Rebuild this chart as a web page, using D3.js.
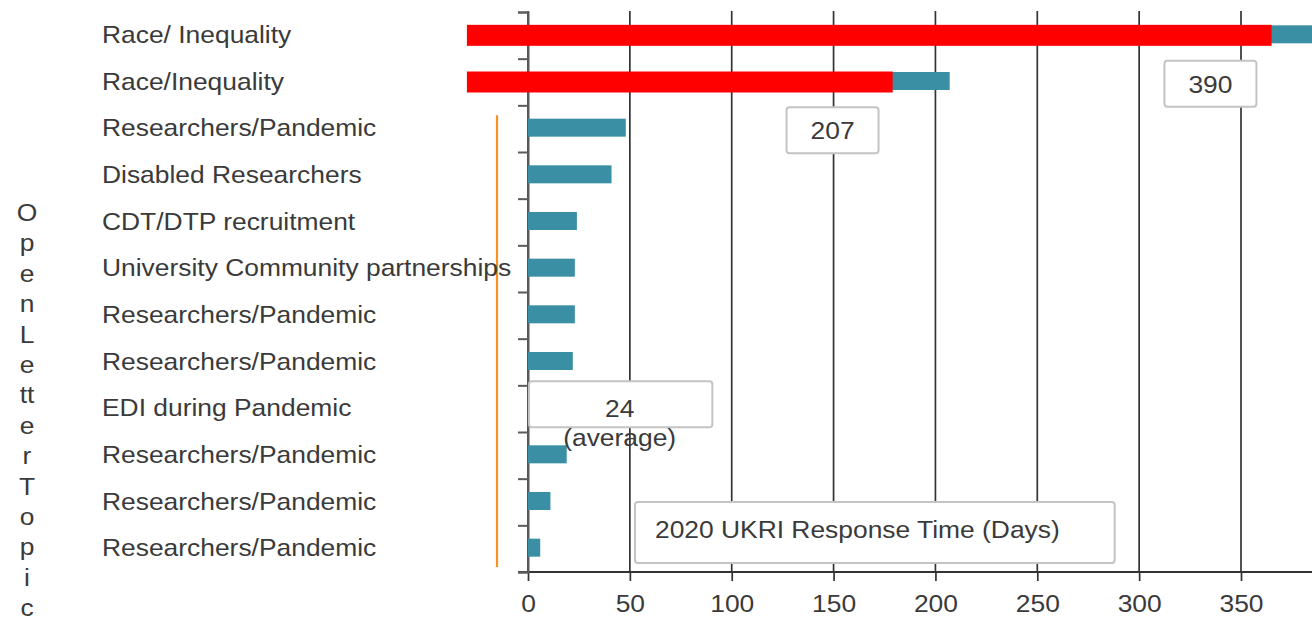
<!DOCTYPE html>
<html>
<head>
<meta charset="utf-8">
<script src="https://cdn.jsdelivr.net/npm/d3@7"></script>
<style>
  html, body { margin: 0; padding: 0; background: #fff; }
  svg { display: block; }
  text { font-family: "Liberation Sans", Arial, sans-serif; fill: #3a3a3a; }
</style>
</head>
<body>
<svg id="chart" width="1312" height="624"></svg>
<script>
// Open letter topics, top to bottom
const topics = [
  "Race/ Inequality",
  "Race/Inequality",
  "Researchers/Pandemic",
  "Disabled Researchers",
  "CDT/DTP recruitment",
  "University Community partnerships",
  "Researchers/Pandemic",
  "Researchers/Pandemic",
  "EDI during Pandemic",
  "Researchers/Pandemic",
  "Researchers/Pandemic",
  "Researchers/Pandemic"
];
// UKRI response time in days
const responseDays = [390, 207, 48, 41, 24, 23, 23, 22, 23, 19, 11, 6];

// Highlight overlays on the two race/inequality letters
const highlightRows = [0, 1];
const highlightFrom = [-30, -30];
const highlightTo = [365, 179];

// Axis ticks
const xTicks = [0, 50, 100, 150, 200, 250, 300, 350];

// Value callouts
const calloutRows = [1, 0];
const calloutValues = [207, 390];
const averageDays = 24;
const titleText = "2020 UKRI Response Time (Days)";
const axisTitle = "OpenLetterTopic";

const svg = d3.select("#chart");
const stretch = 1.1;

const x = d3.scaleLinear().domain([0, 350]).range([528, 1241]);
const y = d3.scaleBand().domain(d3.range(topics.length)).range([12, 572]);
const yEdge = d3.scaleLinear().domain([0, topics.length]).range([12, 572]);

// vertical grid lines
svg.append("g").selectAll("line").data(xTicks).join("line")
  .attr("x1", d => x(d)).attr("x2", d => x(d))
  .attr("y1", yEdge(0) - 1).attr("y2", yEdge(topics.length))
  .attr("stroke", "#333").attr("stroke-width", 1.7);

// x axis
const xAxis = svg.append("g")
  .attr("transform", `translate(0,${yEdge(topics.length)})`)
  .call(d3.axisBottom(x).tickValues(xTicks).tickSize(9).tickPadding(14));
xAxis.select(".domain").remove();
xAxis.selectAll(".tick line").attr("stroke", "#333").attr("stroke-width", 1.7);
xAxis.selectAll(".tick text")
  .style("font-size", "24px").attr("fill", "#3a3a3a")
  .attr("transform", `scale(${stretch},1)`);
svg.append("line")
  .attr("x1", x(0) - 10).attr("x2", 1312)
  .attr("y1", yEdge(topics.length)).attr("y2", yEdge(topics.length))
  .attr("stroke", "#333").attr("stroke-width", 1.8);

// y axis with ticks on band edges
const yAxis = svg.append("g")
  .attr("transform", `translate(${x(0)},0)`)
  .call(d3.axisLeft(yEdge).tickValues(d3.range(topics.length + 1)).tickSize(10).tickFormat(""));
yAxis.select(".domain").attr("stroke", "#5a5a5a").attr("stroke-width", 2);
yAxis.selectAll(".tick line").attr("stroke", "#5a5a5a").attr("stroke-width", 2);

// response time bars
const barH = 18;
svg.append("g").selectAll("rect").data(responseDays).join("rect")
  .attr("x", x(0))
  .attr("y", (d, i) => y(i) + y.bandwidth() / 2 - barH / 2 - 1)
  .attr("width", d => x(d) - x(0))
  .attr("height", barH)
  .attr("fill", "#3a8fa5");

// red highlight overlays
const redH = 21;
svg.append("g").selectAll("rect").data(highlightRows).join("rect")
  .attr("x", (r, k) => x(highlightFrom[k]))
  .attr("y", r => y(r) + y.bandwidth() / 2 - redH / 2)
  .attr("width", (r, k) => x(highlightTo[k]) - x(highlightFrom[k]))
  .attr("height", redH)
  .attr("fill", "#ff0000");

// orange bracket beside the pandemic-era letters
svg.append("line")
  .attr("x1", 497).attr("x2", 497)
  .attr("y1", yEdge(2) + 10).attr("y2", yEdge(topics.length) - 5)
  .attr("stroke", "#f7931e").attr("stroke-width", 2.2);

// category labels
svg.append("g").selectAll("text").data(topics).join("text")
  .attr("transform", (d, i) => `translate(102,${y(i) + y.bandwidth() / 2 + 7.5}) scale(${stretch},1)`)
  .style("font-size", "24px")
  .text(d => d);

// vertical axis title, one glyph group per line
const titleGlyphs = ["O","p","e","n","L","e","tt","e","r","T","o","p","i","c"];
svg.append("g").selectAll("text").data(titleGlyphs).join("text")
  .attr("transform", (d, i) => `translate(27,${221 + i * 30.4}) scale(${stretch},1)`)
  .attr("text-anchor", "middle")
  .style("font-size", "24px")
  .text(d => d);

function callout(cx, top, w, h) {
  return svg.append("rect")
    .attr("x", cx - w / 2).attr("y", top).attr("width", w).attr("height", h)
    .attr("rx", 3).attr("fill", "#fff")
    .attr("stroke", "#c4c4c4").attr("stroke-width", 2);
}
function centeredText(cx, base, str) {
  svg.append("text")
    .attr("transform", `translate(${cx},${base}) scale(${stretch},1)`)
    .attr("text-anchor", "middle")
    .style("font-size", "24px")
    .text(str);
}

// value callouts for the two longest responses
const calloutCenters = [149.5, 335];
calloutRows.forEach((r, k) => {
  const cx = x(calloutCenters[k]);
  const top = y(r) + y.bandwidth() + 2;
  callout(cx, top, 92, 46);
  centeredText(cx, top + 32, String(calloutValues[k]));
});

// average callout
{
  const left = x(0.5), right = x(90.5);
  const top = y(8) - 4;
  callout((left + right) / 2, top, right - left, 46);
  centeredText(x(45), top + 36, String(averageDays));
  centeredText(x(45), top + 65, "(average)");
}

// chart title box
{
  const left = x(52.5), right = x(288);
  const top = 502;
  callout((left + right) / 2, top, right - left, 61);
  svg.append("text")
    .attr("transform", `translate(${left + 20},${top + 36}) scale(${stretch},1)`)
    .style("font-size", "24px")
    .text(titleText);
}
</script>
</body>
</html>
